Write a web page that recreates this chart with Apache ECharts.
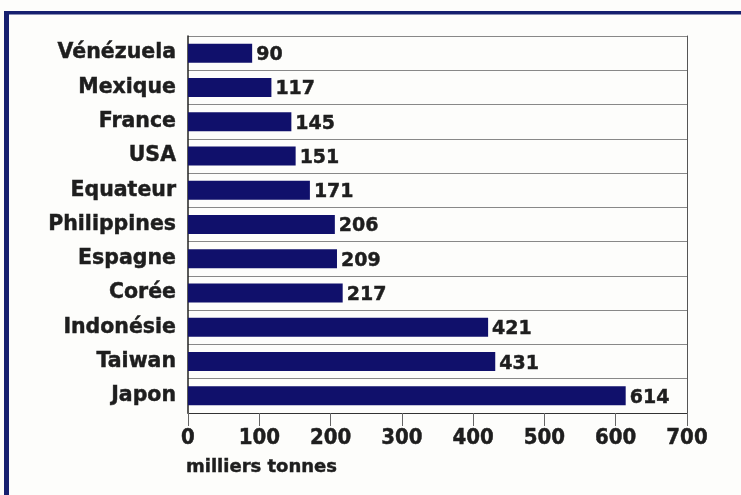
<!DOCTYPE html>
<html><head><meta charset="utf-8">
<script src="https://cdn.jsdelivr.net/npm/echarts@6/dist/echarts.min.js"></script>
<style>html,body{margin:0;padding:0;background:#fdfdfb;}#c{width:741px;height:495px;}</style>
</head><body><div id="c"></div>
<script>
var countries = ['Vénézuela','Mexique','France','USA','Equateur','Philippines','Espagne','Corée','Indonésie','Taiwan','Japon'];
var values = [90,117,145,151,171,206,209,217,421,431,614];
var xTicks = {min:0, max:700, interval:100};
var axisName = 'milliers tonnes';

var FONT = 'DejaVu Sans';
var TXT = '#1e1e1e';
function heavy(size, fam){ return {fontFamily:fam||FONT,fontWeight:'bold',fontSize:size,color:TXT,textBorderColor:TXT,textBorderWidth:0.45}; }
var chart = echarts.init(document.getElementById('c'));
chart.setOption({
  backgroundColor:'#fdfdfb',
  animation:false,
  graphic:[
    {type:'rect', shape:{x:4,y:11,width:737,height:3.5}, style:{fill:'#16206f'}},
    {type:'rect', shape:{x:4,y:11,width:5,height:484}, style:{fill:'#16206f'}}
  ],
  title:{text:axisName, left:181, top:453, textStyle:heavy(18)},
  grid:{left:188,right:54,top:36,bottom:82},
  xAxis:{type:'value',min:xTicks.min,max:xTicks.max,interval:xTicks.interval,
    axisLine:{show:true,lineStyle:{color:'#333',width:1}},
    axisTick:{show:true,length:13,lineStyle:{color:'#666'}},
    axisLabel:Object.assign(heavy(22,'DejaVu Sans Condensed'),{margin:14}),
    splitLine:{show:false}},
  yAxis:[{type:'category',data:countries,inverse:true,
    axisLine:{show:true,lineStyle:{color:'#222',width:1.5}},
    axisTick:{show:false},
    axisLabel:Object.assign(heavy(20.5),{margin:12}),
    splitLine:{show:true,lineStyle:{color:'#888',width:1}}},
    {type:'category',data:countries,inverse:true,position:'right',
    axisLine:{show:true,lineStyle:{color:'#555',width:1}},
    axisTick:{show:false},axisLabel:{show:false},splitLine:{show:false}}],
  series:[{type:'bar',data:values,barWidth:19,
    itemStyle:{color:'#10106b'},
    label:Object.assign(heavy(19),{show:true,position:'right',distance:4,offset:[0,2]})}]
});
</script></body></html>
